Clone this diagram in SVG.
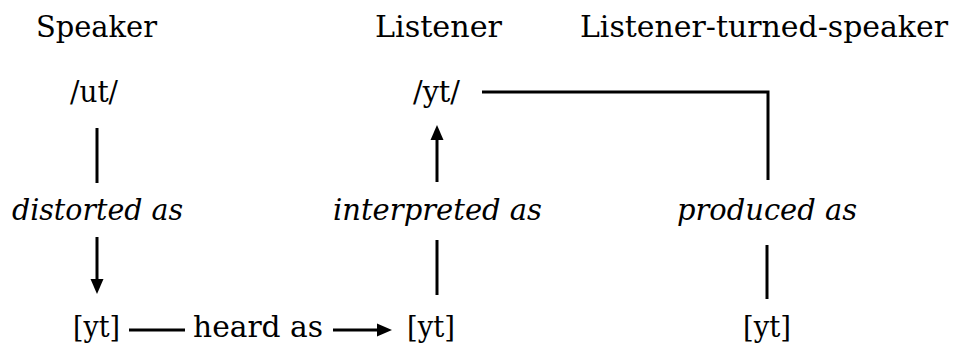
<svg xmlns="http://www.w3.org/2000/svg" width="956" height="347" viewBox="0 0 956 347">
  <style>
    text { font-family: "DejaVu Serif", "Liberation Serif", serif; font-size: 30px; fill: #000; }
    .it { font-style: italic; }
    .ln { stroke: #000; stroke-width: 3; fill: none; }
  </style>
  <defs>
    <marker id="ah" markerUnits="userSpaceOnUse" markerWidth="15" markerHeight="14" refX="0" refY="7" orient="auto" viewBox="0 0 15 14">
      <path d="M0,0.5 L15,7 L0,13.5 z" fill="#000"/>
    </marker>
  </defs>
  <rect width="956" height="347" fill="#fff"/>

  <g id="headers">
    <text x="36" y="37" textLength="121" lengthAdjust="spacingAndGlyphs">Speaker</text>
    <text x="375" y="37" textLength="127" lengthAdjust="spacingAndGlyphs">Listener</text>
    <text x="580" y="37" textLength="368" lengthAdjust="spacingAndGlyphs">Listener-turned-speaker</text>
  </g>

  <g id="speaker-ut"><text x="70" y="102" textLength="48" lengthAdjust="spacingAndGlyphs">/ut/</text></g>
  <g id="listener-yt"><text x="413" y="102" textLength="47" lengthAdjust="spacingAndGlyphs">/yt/</text></g>
  <g id="speaker-yt"><text x="73" y="337" textLength="47" lengthAdjust="spacingAndGlyphs">[yt]</text></g>
  <g id="listener-heard-yt"><text x="407" y="337" textLength="48" lengthAdjust="spacingAndGlyphs">[yt]</text></g>
  <g id="lts-yt"><text x="743" y="337" textLength="48" lengthAdjust="spacingAndGlyphs">[yt]</text></g>

  <g id="connectors">
    <line class="ln" x1="97" y1="128" x2="97" y2="183"/>
    <text class="it" x="12" y="220" textLength="171" lengthAdjust="spacingAndGlyphs">distorted as</text>
    <line class="ln" x1="97" y1="237" x2="97" y2="279" marker-end="url(#ah)"/>

    <line class="ln" x1="129" y1="330" x2="185" y2="330"/>
    <text x="193" y="337" textLength="130" lengthAdjust="spacingAndGlyphs">heard as</text>
    <line class="ln" x1="333" y1="330" x2="377" y2="330" marker-end="url(#ah)"/>

    <line class="ln" x1="437" y1="295" x2="437" y2="240"/>
    <text class="it" x="333" y="220" textLength="209" lengthAdjust="spacingAndGlyphs">interpreted as</text>
    <line class="ln" x1="437" y1="182" x2="437" y2="140" marker-end="url(#ah)"/>

    <polyline class="ln" points="482,92 768,92 768,180"/>
    <text class="it" x="677" y="220" textLength="180" lengthAdjust="spacingAndGlyphs">produced as</text>
    <line class="ln" x1="767" y1="245" x2="767" y2="299"/>
  </g>
</svg>
